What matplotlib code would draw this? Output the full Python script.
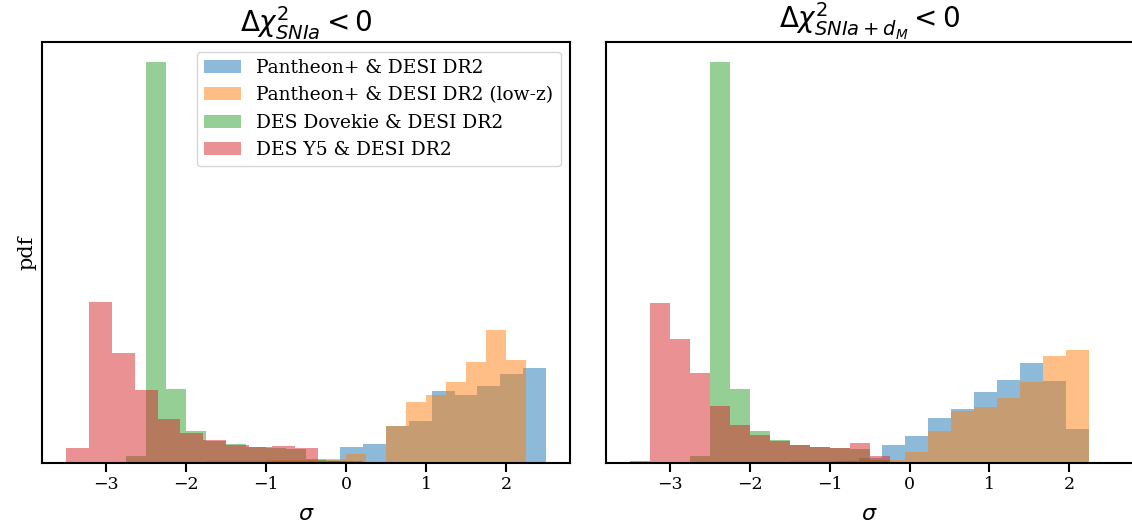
import numpy as np
import matplotlib
matplotlib.use("Agg")
import matplotlib.pyplot as plt

plt.rcParams.update({
    "font.family": "serif",
    "font.serif": ["DejaVu Serif"],
    "mathtext.fontset": "dejavusans",
    "axes.linewidth": 1.5,
    "xtick.major.size": 6.5,
    "xtick.major.width": 1.5,
})

labels = ["Pantheon+ & DESI DR2", "Pantheon+ & DESI DR2 (low-z)",
          "DES Dovekie & DESI DR2", "DES Y5 & DESI DR2"]
colors = ["C0", "C1", "C2", "C3"]

# ── Δχ²_SNIa < 0 : bin edges in sigma and pdf per bin ─────────────────
left_edges = [
    np.linspace(-3.5, 2.5, 22),
    np.linspace(-2.75, 2.25, 21),
    np.linspace(-2.75, 2.5, 22),
    np.linspace(-3.5, 0.214, 14),
]
left_pdf = [
    [0, 0, 0, 0, 0, 0, 0, 0, 0.007, 0.010, 0.013, 0.020, 0.107, 0.123,
     0.244, 0.280, 0.481, 0.452, 0.513, 0.593, 0.634],
    [0.005, 0.007, 0.007, 0.007, 0.008, 0.010, 0.012, 0.015, 0.018, 0.020,
     0.023, 0.058, 0.007, 0.244, 0.407, 0.454, 0.540, 0.674, 0.889, 0.689],
    [0.045, 2.688, 0.493, 0.211, 0.148, 0.124, 0.104, 0.097, 0.094, 0.027,
     0.013, 0, 0, 0, 0, 0, 0, 0, 0, 0, 0],
    [0.099, 1.081, 0.736, 0.490, 0.293, 0.199, 0.150, 0.121, 0.107, 0.110,
     0.097, 0.010, 0.009],
]

# ── Δχ²_SNIa+dM < 0 ──────────────────────────────────────────────────
right_edges = [
    np.linspace(-3.5, 2.24, 21),
    np.linspace(-3.5, 2.24, 21),
    np.linspace(-2.75, 2.5, 22),
    np.linspace(-3.5, 0.0, 15),
]
right_pdf = [
    [0, 0, 0, 0, 0, 0, 0, 0.005, 0.007, 0.010, 0.034, 0.119, 0.179, 0.298,
     0.360, 0.472, 0.553, 0.667, 0.548, 0.224],
    [0, 0, 0, 0.004, 0.005, 0.006, 0.007, 0.010, 0.010, 0.013, 0.017, 0.018,
     0.072, 0.215, 0.345, 0.376, 0.434, 0.540, 0.716, 0.756],
    [0.045, 2.688, 0.493, 0.211, 0.154, 0.121, 0.104, 0.097, 0.094, 0.020,
     0.007, 0, 0, 0, 0, 0, 0, 0, 0, 0, 0.007],
    [0.009, 1.072, 0.828, 0.602, 0.383, 0.253, 0.186, 0.148, 0.121, 0.103,
     0.099, 0.132, 0.043, 0.007],
]

W, H = 1132, 527
fig = plt.figure(figsize=(W / 100, H / 100), dpi=100)
ax1 = fig.add_axes([42.3 / W, 64.4 / H, 527.7 / W, 420.3 / H])
ax2 = fig.add_axes([605.7 / W, 64.4 / H, 527.7 / W, 420.3 / H])


def draw(ax, edges_list, pdf_list):
    for edges, pdf, lab, c in zip(edges_list, pdf_list, labels, colors):
        centers = 0.5 * (edges[1:] + edges[:-1])
        ax.hist(centers, bins=edges, weights=pdf, alpha=0.5, color=c, label=lab)
    ax.set_yticks([])
    ax.set_xticks([-3, -2, -1, 0, 1, 2])
    ax.tick_params(axis="x", labelsize=12.5)
    ax.set_xlabel(r"$\sigma$", fontsize=16, labelpad=7)


draw(ax1, left_edges, left_pdf)
draw(ax2, right_edges, right_pdf)

ax1.set_ylabel("pdf", fontsize=15)
ax1.set_title(r"$\Delta\chi^2_{SNIa} < 0$", fontsize=20, pad=5)
ax2.set_title(r"$\Delta\chi^2_{SNIa+d_M} < 0$", fontsize=20, pad=5)
ax1.legend(loc="upper right", fontsize=13.4)

fig.savefig("out.png", dpi=100)
